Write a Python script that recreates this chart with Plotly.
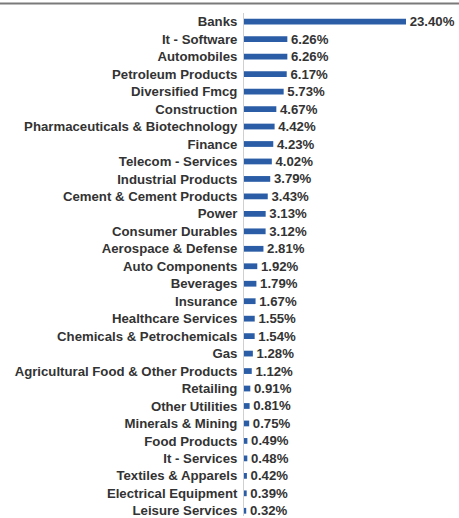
import plotly.graph_objects as go

sectors = [
    "Banks", "It - Software", "Automobiles", "Petroleum Products", "Diversified Fmcg",
    "Construction", "Pharmaceuticals & Biotechnology", "Finance", "Telecom - Services",
    "Industrial Products", "Cement & Cement Products", "Power", "Consumer Durables",
    "Aerospace & Defense", "Auto Components", "Beverages", "Insurance",
    "Healthcare Services", "Chemicals & Petrochemicals", "Gas",
    "Agricultural Food & Other Products", "Retailing", "Other Utilities",
    "Minerals & Mining", "Food Products", "It - Services", "Textiles & Apparels",
    "Electrical Equipment", "Leisure Services",
]
weights = [
    23.40, 6.26, 6.26, 6.17, 5.73, 4.67, 4.42, 4.23, 4.02, 3.79, 3.43, 3.13, 3.12,
    2.81, 1.92, 1.79, 1.67, 1.55, 1.54, 1.28, 1.12, 0.91, 0.81, 0.75, 0.49, 0.48,
    0.42, 0.39, 0.32,
]

BAR = "#2a5da6"
TXT = "#333333"
FONT = "Liberation Sans, Arial, sans-serif"

W, H = 459, 518
top, left = 13, 244
n = len(sectors)
row_px = (513.5 - 22.5) / (n - 1)
plot_h = H - top
y_bottom = -0.5 + plot_h / row_px
px_per_unit = 162 / 23.40
x_max = (W - left) / px_per_unit

fig = go.Figure(go.Bar(
    x=weights,
    y=sectors,
    orientation="h",
    width=0.33,
    marker=dict(color=BAR, line=dict(width=0)),
    text=[f"{v:.2f}%" for v in weights],
    texttemplate=" %{text}",
    textposition="outside",
    textfont=dict(family=FONT, size=13.2, color=TXT, weight="bold"),
    constraintext="none",
    cliponaxis=False,
    hoverinfo="skip",
))

fig.update_layout(
    width=W, height=H,
    margin=dict(l=left, r=0, t=top, b=0),
    paper_bgcolor="white", plot_bgcolor="white",
    showlegend=False,
    xaxis=dict(range=[0, x_max], visible=False, fixedrange=True),
    yaxis=dict(
        type="category",
        range=[y_bottom, -0.5],
        showgrid=False,
        zeroline=False,
        showline=True, linecolor="#d0d0d0", linewidth=1,
        ticks="outside", ticklen=3, tickcolor="rgba(0,0,0,0)",
        tickfont=dict(family=FONT, size=13.2, color=TXT, weight="bold"),
        fixedrange=True,
    ),
    shapes=[dict(
        type="line", xref="paper", yref="paper",
        x0=-left / (W - left) - 0.01, x1=1.01,
        y0=1 + 9.5 / plot_h, y1=1 + 9.5 / plot_h,
        line=dict(color="#7a7a7a", width=2),
    )],
)

fig.write_html("out.html")
